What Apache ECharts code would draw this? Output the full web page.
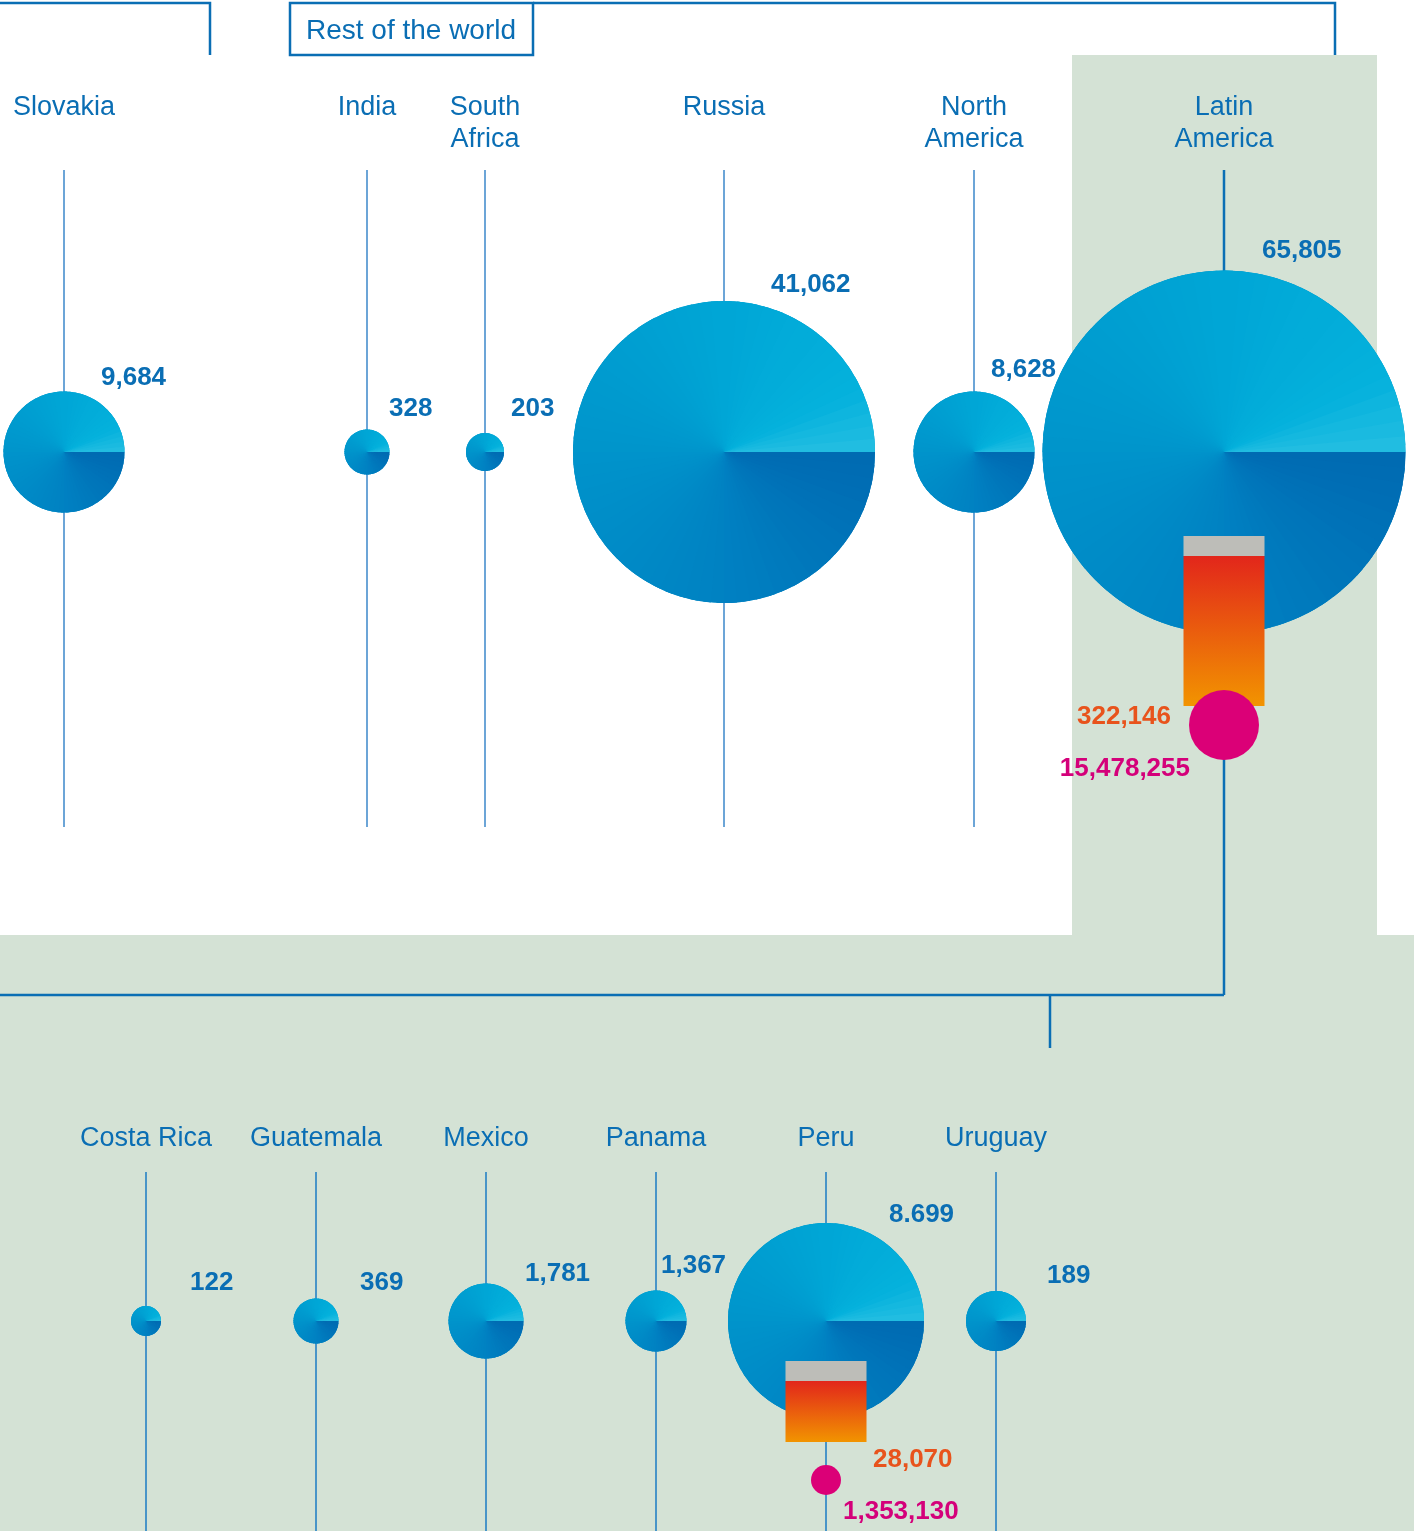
<!DOCTYPE html>
<html><head><meta charset="utf-8">
<script src="https://cdn.jsdelivr.net/npm/echarts@6/dist/echarts.min.js"></script>
<style>html,body{margin:0;padding:0;background:#fff}#chart{width:1414px;height:1531px}</style>
</head><body><div id="chart"></div>
<script>
// ---------------- DATA ----------------
const worldRegions = ['Slovakia', 'India', 'South\nAfrica', 'Russia', 'North\nAmerica', 'Latin\nAmerica'];
const worldValues = [9684, 328, 203, 41062, 8628, 65805];
const worldValueLabels = ['9,684', '328', '203', '41,062', '8,628', '65,805'];
const worldOrange = [null, null, null, null, null, 322146];
const worldPink = [null, null, null, null, null, 15478255];

const latinCountries = ['Costa Rica', 'Guatemala', 'Mexico', 'Panama', 'Peru', 'Uruguay'];
const latinValues = [122, 369, 1781, 1367, 8699, 189];
const latinValueLabels = ['122', '369', '1,781', '1,367', '8.699', '189'];
const latinOrange = [null, null, null, null, 28070, null];
const latinPink = [null, null, null, null, 1353130, null];

const groupTitle = 'Rest of the world';

// ---------------- LAYOUT / STYLE ----------------
const FONT = '"Liberation Sans", Arial, sans-serif';
const BLUE = '#0a6eb4';
const layout = {
  world: {
    columnX: [64, 367, 485, 724, 974, 1224],
    diameter: [121, 45, 38, 302, 121, 363],
    labelOffset: [[37, -74], [22, -43], [26, -43], [47, -167], [17, -82], [38, -201]],
    nameTop: -360, stemTop: -282, stemBottom: 375, stemBottomHl: 543, highlight: 5,
    stemColor: '#6ca5d7', stemHlColor: '#0b6fb5', stemWidth: 2, stemHlWidth: 2.5,
    bar: { top: 84, gray: 20, height: 150, width: 81, dotDy: 273, dotR: 35,
      orange: { dx: -53, dy: 265, align: 'right' }, pink: { dx: -34, dy: 317, align: 'right' } }
  },
  latin: {
    diameter: [30, 45, 75, 61, 196, 60],
    labelOffset: [[44, -38], [44, -38], [39, -47], [5, -55], [63, -106], [51, -45]],
    nameTop: -198, stemTop: -149, stemBottom: 210, stemBottomHl: 210, highlight: -1,
    stemColor: '#1b7bc3', stemHlColor: '#1b7bc3', stemWidth: 1.5, stemHlWidth: 1.5,
    bar: { top: 40, gray: 20, height: 61, width: 81, dotDy: 159, dotR: 15,
      orange: { dx: 47, dy: 139, align: 'left' }, pink: { dx: 17, dy: 191, align: 'left' } }
  }
};

const conicStops = [[0, [0x00, 0x6a, 0xb2]], [0.25, [0x00, 0x81, 0xc2]], [0.5, [0x00, 0x94, 0xcb]],
  [0.75, [0x00, 0xa6, 0xd6]], [0.93, [0x04, 0xb1, 0xdc]], [1, [0x24, 0xbe, 0xe2]]];
function conicColor(t) {
  for (let i = 1; i < conicStops.length; i++) {
    if (t <= conicStops[i][0]) {
      const a = conicStops[i - 1], b = conicStops[i];
      const f = (t - a[0]) / (b[0] - a[0]);
      const c = a[1].map((v, k) => Math.round(v + (b[1][k] - v) * f));
      return 'rgb(' + c.join(',') + ')';
    }
  }
  return 'rgb(36,190,226)';
}
function conicDisc(cx, cy, r) {
  const n = 72, out = [];
  out.push({ type: 'circle', silent: true, shape: { cx: cx, cy: cy, r: r }, style: { fill: conicColor(0.5) } });
  for (let k = 0; k < n; k++) {
    const a0 = k / n * 2 * Math.PI;
    const a1 = (k + 1) / n * 2 * Math.PI + (k < n - 1 ? 0.05 : 0);
    out.push({ type: 'sector', silent: true,
      shape: { cx: cx, cy: cy, r0: 0, r: r, startAngle: a0, endAngle: a1, clockwise: true },
      style: { fill: conicColor((k + 0.5) / n) } });
  }
  return out;
}

function makeRender(L, names, valueLabels, orange, pink) {
  return function (params, api) {
    const i = params.dataIndex;
    const c = api.coord([api.value(0), api.value(1)]);
    const cx = c[0], cy = c[1];
    const r = L.diameter[i] / 2;
    const hl = i === L.highlight;
    const ch = [];
    ch.push({ type: 'line', silent: true,
      shape: { x1: cx, y1: cy + L.stemTop, x2: cx, y2: cy + (hl ? L.stemBottomHl : L.stemBottom) },
      style: { stroke: hl ? L.stemHlColor : L.stemColor, lineWidth: hl ? L.stemHlWidth : L.stemWidth } });
    conicDisc(cx, cy, r).forEach(s => ch.push(s));
    ch.push({ type: 'text', silent: true,
      style: { text: names[i], x: cx, y: cy + L.nameTop, align: 'center', verticalAlign: 'top',
        fill: BLUE, fontSize: 27, fontFamily: FONT, lineHeight: 32 } });
    const lo = L.labelOffset[i];
    ch.push({ type: 'text', silent: true,
      style: { text: valueLabels[i], x: cx + lo[0], y: cy + lo[1], align: 'left', verticalAlign: 'middle',
        fill: BLUE, fontSize: 26, fontWeight: 'bold', fontFamily: FONT } });
    if (orange[i] != null) {
      const B = L.bar;
      const x0 = cx - B.width / 2;
      ch.push({ type: 'rect', silent: true, shape: { x: x0, y: cy + B.top, width: B.width, height: B.gray },
        style: { fill: '#bdbdb8' } });
      ch.push({ type: 'rect', silent: true, shape: { x: x0, y: cy + B.top + B.gray, width: B.width, height: B.height },
        style: { fill: new echarts.graphic.LinearGradient(0, 0, 0, 1, [
          { offset: 0, color: '#e2261b' }, { offset: 1, color: '#f29400' }]) } });
      ch.push({ type: 'text', silent: true,
        style: { text: orange[i].toLocaleString('en-US'), x: cx + B.orange.dx, y: cy + B.orange.dy,
          align: B.orange.align, verticalAlign: 'middle', fill: '#e8531c', fontSize: 26, fontWeight: 'bold', fontFamily: FONT } });
    }
    if (pink[i] != null) {
      const B = L.bar;
      ch.push({ type: 'circle', silent: true, shape: { cx: cx, cy: cy + B.dotDy, r: B.dotR }, style: { fill: '#db0077' } });
      ch.push({ type: 'text', silent: true,
        style: { text: pink[i].toLocaleString('en-US'), x: cx + B.pink.dx, y: cy + B.pink.dy,
          align: B.pink.align, verticalAlign: 'middle', fill: '#d4007a', fontSize: 26, fontWeight: 'bold', fontFamily: FONT } });
    }
    return { type: 'group', children: ch };
  };
}

const worldData = worldValues.map((v, i) => ({ name: worldRegions[i], value: [layout.world.columnX[i], 0, v] }));
const latinData = latinValues.map((v, i) => ({ name: latinCountries[i], value: [i, 0, v] }));

const LINE = '#0a6eb4';
const option = {
  animation: false,
  backgroundColor: '#ffffff',
  grid: [
    { left: 0, top: 0, width: 1414, height: 904 },
    { left: 61, top: 1111, width: 1020, height: 420 }
  ],
  xAxis: [
    { type: 'value', gridIndex: 0, min: 0, max: 1414, show: false },
    { type: 'category', gridIndex: 1, data: latinCountries, boundaryGap: true, show: false }
  ],
  yAxis: [
    { type: 'value', gridIndex: 0, min: -1, max: 1, show: false },
    { type: 'value', gridIndex: 1, min: -1, max: 1, show: false }
  ],
  graphic: [
    { type: 'rect', z: 0, silent: true, shape: { x: 1072, y: 55, width: 305, height: 880 }, style: { fill: '#d4e2d5' } },
    { type: 'rect', z: 0, silent: true, shape: { x: 0, y: 935, width: 1414, height: 596 }, style: { fill: '#d4e2d5' } },
    { type: 'polyline', z: 1, silent: true, shape: { points: [[0, 3], [210, 3], [210, 55]] }, style: { stroke: LINE, lineWidth: 2.5, fill: null } },
    { type: 'rect', z: 1, silent: true, shape: { x: 290, y: 3, width: 243, height: 52 }, style: { stroke: LINE, lineWidth: 2.5, fill: '#ffffff' } },
    { type: 'polyline', z: 1, silent: true, shape: { points: [[533, 3], [1335, 3], [1335, 55]] }, style: { stroke: LINE, lineWidth: 2.5, fill: null } },
    { type: 'text', z: 1, silent: true, style: { text: groupTitle, x: 411, y: 31, align: 'center', verticalAlign: 'middle', fill: BLUE, fontSize: 28, fontFamily: FONT } },
    { type: 'polyline', z: 1, silent: true, shape: { points: [[1224, 995], [0, 995]] }, style: { stroke: LINE, lineWidth: 2.5, fill: null } },
    { type: 'line', z: 1, silent: true, shape: { x1: 1050, y1: 995, x2: 1050, y2: 1048 }, style: { stroke: LINE, lineWidth: 2.5 } }
  ],
  series: [
    { type: 'custom', name: 'World', xAxisIndex: 0, yAxisIndex: 0, z: 2, clip: false,
      data: worldData, renderItem: makeRender(layout.world, worldRegions, worldValueLabels, worldOrange, worldPink) },
    { type: 'custom', name: 'Latin America', xAxisIndex: 1, yAxisIndex: 1, z: 2, clip: false,
      data: latinData, renderItem: makeRender(layout.latin, latinCountries, latinValueLabels, latinOrange, latinPink) }
  ]
};
const chart = echarts.init(document.getElementById('chart'), null, { renderer: 'canvas' });
chart.setOption(option);
</script>
</body></html>
